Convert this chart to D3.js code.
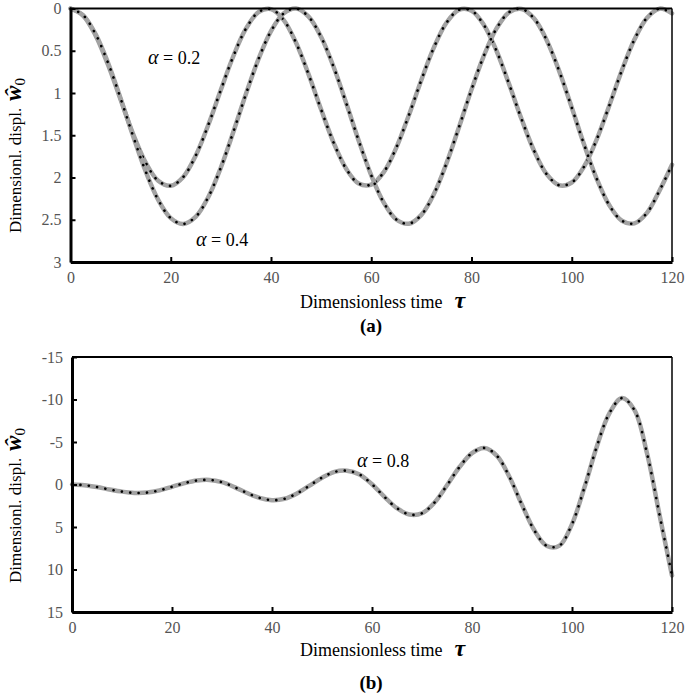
<!DOCTYPE html>
<html><head><meta charset="utf-8">
<script src="https://cdn.jsdelivr.net/npm/d3@7"></script>
</head><body style="margin:0;background:#fff">
<script>
// ---- data ----
const tau = d3.range(0, 120.01, 2.5);
const alpha02 = [0,0.083,0.318,0.669,1.079,1.485,1.823,2.039,2.098,1.993,1.739,1.376,0.962,0.562,0.239,0.043,0.007,0.134,0.406,0.780,1.196,1.589,1.897,2.072,2.085,1.936,1.646,1.263,0.846,0.461,0.169,0.016,0.026,0.197,0.503,0.895,1.311,1.686,1.961,2.092,2.059,1.867,1.546,1.147,0.732,0.368,0.111,0.002,0.058];
const alpha04 = [0,0.078,0.303,0.645,1.065,1.511,1.928,2.265,2.481,2.550,2.463,2.230,1.881,1.458,1.012,0.599,0.268,0.060,0.001,0.097,0.338,0.693,1.119,1.564,1.974,2.298,2.497,2.547,2.442,2.195,1.833,1.405,0.960,0.554,0.236,0.045,0.005,0.119,0.375,0.741,1.172,1.616,2.018,2.329,2.512,2.543,2.419,2.156,1.85];
const alpha08 = [0,0.08,0.30,0.59,0.84,0.99,0.95,0.69,0.27,-0.16,-0.47,-0.54,-0.27,0.31,1.00,1.57,1.84,1.68,1.05,0.13,-0.80,-1.48,-1.62,-1.18,-0.03,1.46,2.79,3.53,3.38,2.12,0.09,-2.06,-3.70,-4.30,-3.37,-0.88,2.40,5.42,7.24,7.19,4.66,0.33,-4.54,-8.41,-10.17,-8.74,-3.67,3.56,10.7];
const xTicks = [0,20,40,60,80,100,120];
const yTicksA = [0,0.5,1,1.5,2,2.5,3];
const yTickLabelsA = ["0","0.5","1","1.5","2","2.5","3"];
const yTicksB = [-15,-10,-5,0,5,10,15];
const yTickLabelsB = ["-15","-10","-5","0","5","10","15"];

const W = 685, H = 695;
const FONT = '"Liberation Serif"';
const svg = d3.select("body").append("svg").attr("width", W).attr("height", H).style("display","block");

function txt(sel){ return sel.append("text").style("font-family", FONT); }

function panel(opt) {
  const x = d3.scaleLinear().domain([0,120]).range([opt.x0, opt.x1]);
  const y = d3.scaleLinear().domain(opt.ydom).range([opt.y0, opt.y1]);
  const g = svg.append("g");
  const line = d3.line().x((d,i)=>x(tau[i])).y(d=>y(d)).curve(d3.curveCatmullRom.alpha(0.5));
  opt.series.forEach(s => {
    g.append("path").datum(s).attr("d", line).attr("fill","none")
      .attr("stroke","#a3a3a3").attr("stroke-width",4.5).attr("stroke-linecap","round");
    g.append("path").datum(s).attr("d", line).attr("fill","none")
      .attr("stroke","#000").attr("stroke-width",2.6).attr("stroke-linecap","round")
      .attr("stroke-dasharray","0.1 8.3");
  });
  g.append("line").attr("x1",x(0)).attr("x2",x(120)).attr("y1",opt.y0).attr("y2",opt.y0).attr("stroke","#000").attr("stroke-width",2);
  g.append("line").attr("x1",x(120)).attr("x2",x(120)).attr("y1",opt.y0).attr("y2",opt.y1).attr("stroke","#000").attr("stroke-width",1.5);
  const xa = g.append("g").attr("transform",`translate(0,${opt.y1})`)
    .call(d3.axisBottom(x).tickValues(xTicks).tickSizeInner(-5).tickSizeOuter(0).tickPadding(10).tickFormat(d3.format("d")));
  const ya = g.append("g").attr("transform",`translate(${opt.x0},0)`)
    .call(d3.axisLeft(y).tickValues(opt.yticks).tickSizeInner(-5).tickSizeOuter(0).tickPadding(9)
      .tickFormat((d,i)=>opt.ylabels[i]));
  [xa,ya].forEach(a=>{
    a.attr("font-family", null).style("font-family", FONT);
    a.select(".domain").attr("stroke","#000").attr("stroke-width",3);
    a.selectAll(".tick line").attr("stroke","#000").attr("stroke-width",2);
    a.selectAll(".tick text").attr("fill","#555").attr("font-size",16).style("font-family", FONT);
  });
  const xl = txt(g).attr("x", opt.xlabX).attr("y", opt.xlabY).attr("font-size",18).attr("fill","#000");
  xl.append("tspan").text("Dimensionless time");
  xl.append("tspan").attr("dx",12).attr("font-style","italic").attr("font-weight","bold").attr("font-size",24).text("τ");
  txt(g).attr("x", opt.tagX).attr("y", opt.tagY).attr("text-anchor","middle")
    .attr("font-size",19).attr("font-weight","bold").text(opt.tag);
  const yl = txt(g).attr("transform",`translate(${opt.ylabX},${opt.ylabY}) rotate(-90)`)
    .attr("font-size",17).attr("fill","#000");
  yl.append("tspan").text("Dimensionl. displ.");
  yl.append("tspan").attr("dx",7).attr("font-style","italic").attr("font-weight","bold").attr("font-size",23).text("ŵ");
  yl.append("tspan").attr("font-size",15).attr("dy",4).text("0");
  opt.notes.forEach(n=>{
    const t = txt(g).attr("x",n.x).attr("y",n.y).attr("font-size",18);
    t.append("tspan").attr("font-style","italic").attr("font-size",20).text("α");
    t.append("tspan").text(" = " + n.v);
  });
}

panel({x0:70.5, x1:672, y0:8.5, y1:262, ydom:[0,3], yticks:yTicksA, ylabels:yTickLabelsA,
  series:[alpha02, alpha04], xlabX:300, xlabY:308, tag:"(a)", tagX:371, tagY:332,
  ylabX:21, ylabY:233, notes:[{x:148,y:64,v:"0.2"},{x:196,y:246,v:"0.4"}]});
panel({x0:72, x1:672, y0:357, y1:612, ydom:[-15,15], yticks:yTicksB, ylabels:yTickLabelsB,
  series:[alpha08], xlabX:300, xlabY:656, tag:"(b)", tagX:371, tagY:689,
  ylabX:21, ylabY:583, notes:[{x:357,y:467,v:"0.8"}]});
</script>
</body></html>
